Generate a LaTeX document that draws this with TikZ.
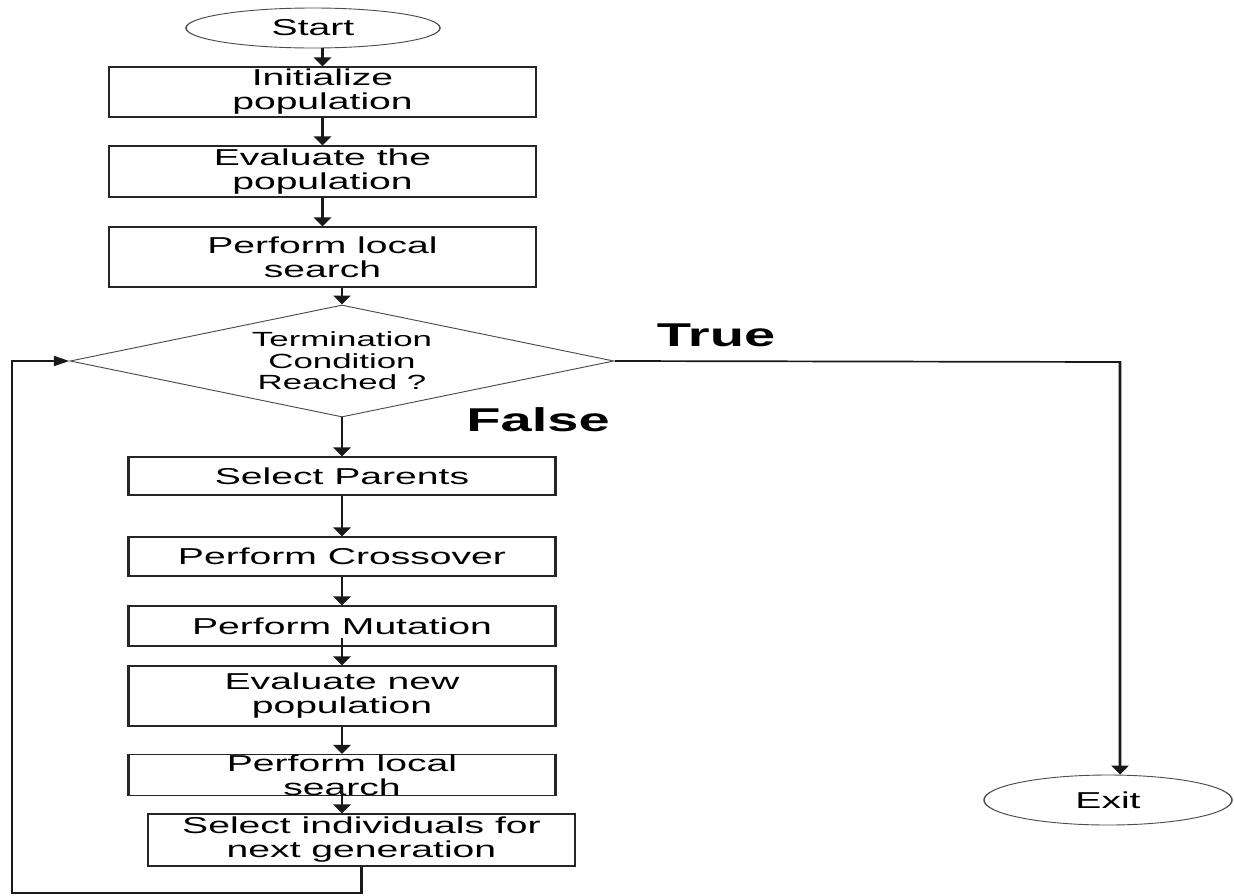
\documentclass[tikz,border=0pt]{standalone}
\usepackage{fontspec}
\setmainfont{Liberation Sans}
\usetikzlibrary{shapes.geometric,arrows.meta}
\begin{document}
\begin{tikzpicture}
\useasboundingbox[fill=white] (0,0) rectangle (1234pt,-895pt);
\begin{scope}[transform canvas={xscale=1.7}, x=0.588235pt, y=-1pt,
  box/.style={draw=black!85, line width=1.2pt, rectangle, inner sep=0pt,
    minimum width=427pt/1.7, align=center, font=\fontsize{23}{24}\selectfont},
  oval/.style={draw=black!70, line width=0.9pt, ellipse, inner sep=0pt,
    font=\fontsize{23}{24}\selectfont},
  dia/.style={draw=black!70, line width=0.9pt, diamond, inner sep=0pt,
    minimum width=544pt/1.7, minimum height=112pt},
  dtext/.style={inner sep=0pt, align=center, font=\fontsize{20.5}{21.5}\selectfont},
  lbl/.style={inner sep=0pt, font=\fontsize{33}{36}\selectfont\bfseries},
  arr/.style={draw=black!90, line width=1.7pt, -{Triangle[length=9pt,width=10pt]}},
]
\node[oval, minimum width=254pt/1.7, minimum height=40pt] (start) at (313,28) {Start};
\node[box, minimum height=50pt] (b1) at (322.5,92) {Initialize\\population};
\node[box, minimum height=51pt] (b2) at (322.5,171.5) {Evaluate the\\population};
\node[box, minimum height=60pt] (b3) at (322.5,257) {Perform local\\search};
\node[dia] (dia) at (342,361) {};
\node[dtext] (dt) at (dia.center) {Termination\\Condition\\Reached ?};
\node[lbl] (true) at (716,335) {True};
\node[lbl] (false) at (538,420) {False};
\node[box, minimum height=38pt] (sp) at (342,476) {Select Parents};
\node[box, minimum height=39pt] (cr) at (342,556.5) {Perform Crossover};
\node[box, minimum height=40pt] (mu) at (342,626) {Perform Mutation};
\node[box, minimum height=60pt] (ev) at (342,696) {Evaluate new\\population};
\node[box, minimum height=40pt] (ls) at (342,775) {Perform local\\search};
\node[box, minimum height=52pt] (si) at (361.5,840) {Select individuals for\\next generation};
\node[oval, minimum width=248pt/1.7, minimum height=50pt] (exit) at (1108,800) {Exit};
\coordinate (tc) at (1120,362);
\coordinate (fb) at (12,893);

\draw[arr] (start.south -| b1.north) -- (b1.north);
\draw[arr] (b1.south) -- (b2.north);
\draw[arr] (b2.south) -- (b3.north);
\draw[arr] (b3.south -| dia.north) -- (dia.north);
\draw[arr] (dia.south) -- (sp.north);
\draw[arr] (sp.south) -- (cr.north);
\draw[arr] (cr.south) -- (mu.north);
\draw[arr] ([yshift=9pt]mu.south) -- (ev.north);
\draw[arr] (ev.south) -- (ls.north);
\draw[arr] ([yshift=7pt]ls.south) -- (ls.south |- si.north);
\draw[arr] (dia.east) -- (tc) -- (tc |- exit.north);
\draw[arr] (si.south) |- (fb) |- (dia.west);
\end{scope}
\end{tikzpicture}
\end{document}
